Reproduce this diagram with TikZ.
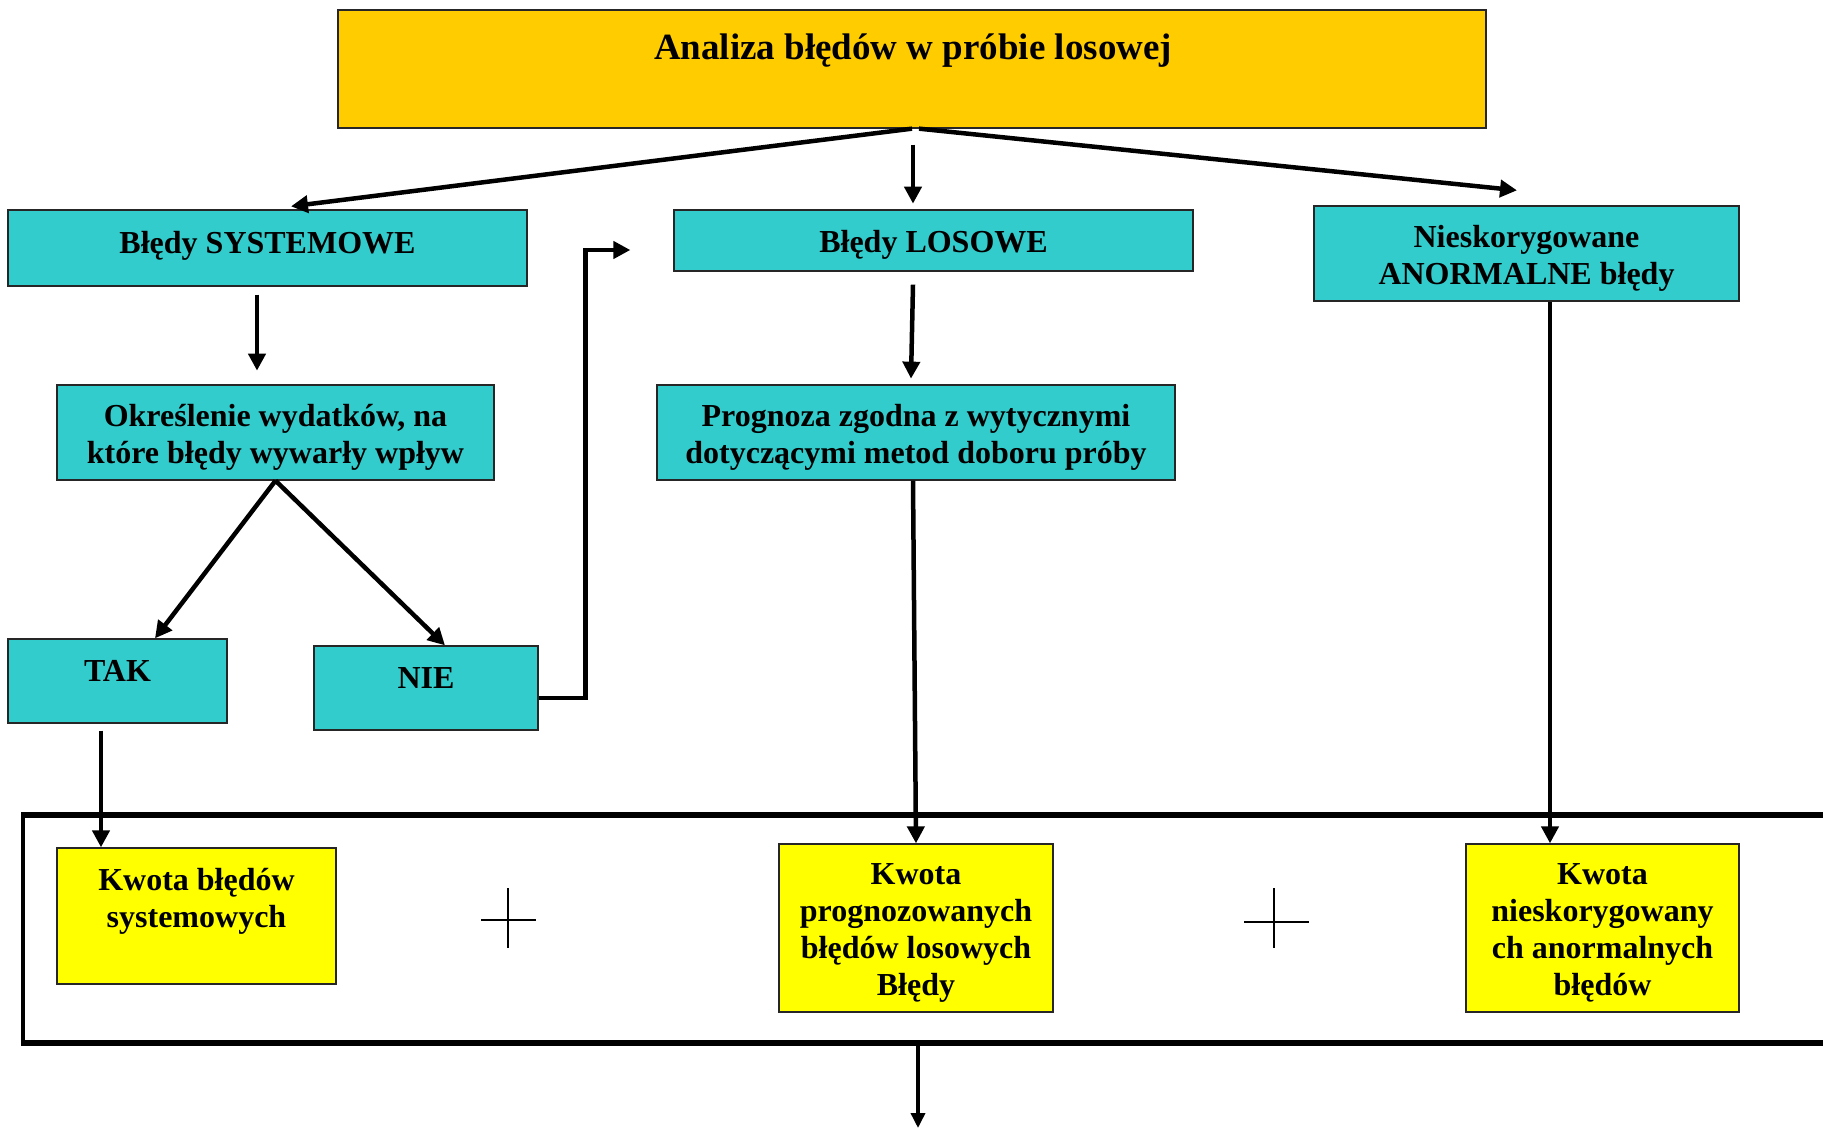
\documentclass[tikz,border=0pt]{standalone}
\usepackage{fontspec}
\setmainfont{Liberation Serif}
\usetikzlibrary{arrows.meta,calc}
\definecolor{gold}{HTML}{FFCC00}
\definecolor{tealc}{HTML}{33CCCC}
\definecolor{yel}{HTML}{FFFF00}
\begin{document}
\begin{tikzpicture}[x=1pt,y=-1pt,
  box/.style={draw=black!85, line width=1.3pt, inner sep=0pt},
  tbox/.style={box, fill=tealc},
  ybox/.style={box, fill=yel},
  txt/.style={inner sep=0pt, align=center, font=\fontsize{32}{37}\selectfont\bfseries},
  arr/.style={line width=4.5pt, -{Triangle[length=17pt,width=17pt]}},
  arrthin/.style={line width=3.5pt, -{Triangle[length=15pt,width=14pt]}},
]
\clip (0,0) rectangle (1823,1131);
\fill[white] (0,0) rectangle (1823,1131);

% boxes
\node[box, fill=gold, minimum width=1148pt, minimum height=118pt] (top) at (912,69) {};
\node[txt, font=\fontsize{37}{40}\selectfont\bfseries, anchor=base] (toptxt) at (913,60) {Analiza błędów w próbie losowej};

\node[tbox, minimum width=519pt, minimum height=76pt] (sys) at (267.5,248) {};
\node[txt] (systxt) at (267.5,246) {Błędy SYSTEMOWE};
\node[tbox, minimum width=519pt, minimum height=61pt] (los) at (933.5,240.5) {};
\node[txt] (lostxt) at (933.5,245) {Błędy LOSOWE};
\node[tbox, minimum width=425pt, minimum height=95pt] (anor) at (1526.5,253.5) {};
\node[txt] (anortxt) at (1526.5,258) {Nieskorygowane\\ANORMALNE błędy};
\node[tbox, minimum width=437pt, minimum height=95pt] (okr) at (275.5,432.5) {};
\node[txt] (okrtxt) at (275.5,437.5) {Określenie wydatków, na\\które błędy wywarły wpływ};
\node[tbox, minimum width=518pt, minimum height=95pt] (prog) at (916,432.5) {};
\node[txt] (progtxt) at (916,437.5) {Prognoza zgodna z wytycznymi\\dotyczącymi metod doboru próby};
\node[tbox, minimum width=219pt, minimum height=84pt] (tak) at (117.5,681) {};
\node[txt] (taktxt) at (117.5,671) {TAK};
\node[tbox, minimum width=224pt, minimum height=84pt] (nie) at (426,688) {};
\node[txt] (nietxt) at (426,678) {NIE};

\node[ybox, minimum width=279pt, minimum height=136pt] (kws) at (196.5,916) {};
\node[txt] (kwstxt) at (196.5,901) {Kwota błędów\\systemowych};
\node[ybox, minimum width=274pt, minimum height=168pt] (kwp) at (916,928) {};
\node[txt] (kwptxt) at (916,933) {Kwota\\prognozowanych\\błędów losowych\\Błędy};
\node[ybox, minimum width=273pt, minimum height=168pt] (kwa) at (1602.5,928) {};
\node[txt] (kwatxt) at (1602.5,933) {Kwota\\nieskorygowany\\ch anormalnych\\błędów};

% frame
\draw[line width=4pt] (23,812) -- (23,1046);
\draw[line width=6pt] (21,815) -- (1830,815);
\draw[line width=6pt] (21,1043) -- (1830,1043);
\coordinate (fb) at (918,1043);

% plus signs
\draw[line width=1.5pt] (508,888) -- (508,948) (481,920) -- (536,920);
\draw[line width=1.5pt] (1274,888) -- (1274,948) (1244,922) -- (1309,922);

% connectors
\draw[arr] (top.south) -- ([xshift=23.5pt,yshift=3pt]sys.north);
\draw[arr] ([xshift=7pt]top.south) -- ([xshift=-9.5pt,yshift=15pt]anor.north);
\draw[arr] ([xshift=1pt,yshift=-16pt]top.south) -- ++(0,59);
\draw[arr] ([xshift=-10.5pt,yshift=-8pt]sys.south) -- ++(0,76);
\draw[arr] ([xshift=-20.5pt,yshift=-13pt]los.south) -- ++(-2,94);
\draw[arr] (okr.south) -- ([xshift=37.5pt]tak.north);
\draw[arr] (okr.south) -- ([xshift=19pt]nie.north);
\draw[arr] ([yshift=-10pt]nie.east) -- ++(47,0) |- ([xshift=-43pt,yshift=-9.5pt]los.west);
\draw[arr] ([xshift=-16.5pt,yshift=-7pt]tak.south) -- ([xshift=-16.5pt]tak.south |- kws.north);
\draw[arr] ([xshift=-3pt]prog.south) -- (kwp.north);
\draw[arr] ([xshift=23.5pt]anor.south) -- ([xshift=23.5pt]anor.south |- kwa.north);
\draw[arrthin] (fb) -- ++(0,85);
\end{tikzpicture}
\end{document}
